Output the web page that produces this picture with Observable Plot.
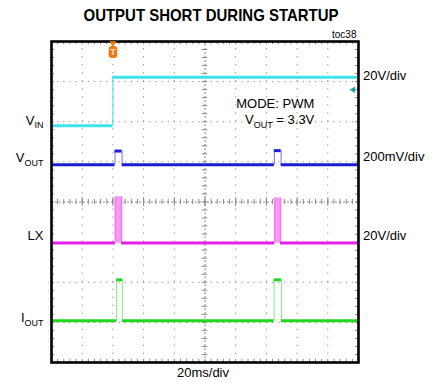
<!DOCTYPE html>
<html><head><meta charset="utf-8">
<script src="https://cdn.jsdelivr.net/npm/d3@7"></script>
<script src="https://cdn.jsdelivr.net/npm/@observablehq/plot@0.6"></script>
<style>body{margin:0;background:#fff}#chart{width:439px;height:384px}</style>
</head><body><div id="chart"></div>
<script>
// ---- data (in scope divisions: x 0..10, y -4..4) ----
const titleText = "OUTPUT SHORT DURING STARTUP";
const tocText = "toc38";
const timeLabel = "20ms/div";
const traceNames = ["VIN", "VOUT", "LX", "IOUT"];
const traceColors = ["#3de3ee", "#1c1cd6", "#e81fe8", "#1fd81f"];
const edgeColors = ["#3de3ee", "#7d7df2", "#f27cf2", "#8eee8e"];
const vinTimes = [0, 2.0, 10];
const vinLevels = [1.9, 3.11];
const voutTimes = [0, 2.07, 2.30, 7.26, 7.48, 10];
const voutLevels = [0.93, 1.27, 0.93, 1.28, 0.93];
const lxTimes = [0, 2.08, 2.28, 7.27, 7.46, 10];
const lxLevels = [-1.02, 0.13, -1.02, 0.10, -1.02];
const ioutTimes = [0, 2.12, 2.31, 7.25, 7.49, 10];
const ioutLevels = [-2.96, -1.94, -2.96, -1.94, -2.96];
const leftLabels = ["VIN", "VOUT", "LX", "IOUT"];
const leftLabelLevels = [2.03, 1.1, -0.84, -2.89];
const rightLabels = ["20V/div", "200mV/div", "20V/div"];
const rightLabelLevels = [3.15, 1.115, -0.855];
const modeLabels = ["MODE: PWM", "VOUT = 3.3V"];
const modeLabelLevels = [2.45, 2.04];
const modeLabelX = 8.56;
const triggerTime = 2.0;
const groundMarkerTime = 9.83;
const groundMarkerLevel = 2.80;
const xDivs = [1, 2, 3, 4, 6, 7, 8, 9];
const yDivs = [-3, -2, -1, 1, 2, 3];

// ---- build segments ----
function build(times, levels, name, i) {
  const h = [], v = [];
  for (let k = 0; k < levels.length; k++) h.push({x1: times[k], x2: times[k + 1], y: levels[k], name, i, k});
  for (let k = 1; k < levels.length; k++) v.push({x: times[k], y1: levels[k - 1], y2: levels[k], name, i});
  return {h, v};
}
const all = [build(vinTimes, vinLevels, "VIN", 0), build(voutTimes, voutLevels, "VOUT", 1),
             build(lxTimes, lxLevels, "LX", 2), build(ioutTimes, ioutLevels, "IOUT", 3)];
const baseLevel = [null, 0.93, -1.02, -2.96];
const hSegs = all.flatMap(t => t.h).filter(s => !(s.i === 2 && s.y !== baseLevel[2]));
const vSegs = all.flatMap(t => t.v);
const lxPulses = all[2].h.filter(s => s.y !== baseLevel[2]).map(s => ({...s, base: baseLevel[2]}));

const minorX = d3.range(0, 50.5, 1).map(d => d / 5);
const minorY = d3.range(-20, 20.5, 1).map(d => d / 5);
const grid = "#8a8a8a";

const pill = {draw(ctx) {
  const w = 4.3, h = 6, r = 3;
  ctx.moveTo(-w + r, -h); ctx.lineTo(w - r, -h); ctx.arcTo(w, -h, w, -h + r, r);
  ctx.lineTo(w, h - r); ctx.arcTo(w, h, w - r, h, r); ctx.lineTo(-w + r, h);
  ctx.arcTo(-w, h, -w, h - r, r); ctx.lineTo(-w, -h + r); ctx.arcTo(-w, -h, -w + r, -h, r); ctx.closePath();
}};

const chart = Plot.plot({
  width: 439, height: 384,
  marginTop: 41, marginLeft: 51, marginRight: 81, marginBottom: 22,
  x: {domain: [0, 10], axis: null},
  y: {domain: [-4, 4], axis: null},
  style: {fontFamily: "'Liberation Sans', Arial, sans-serif", fontSize: "13px", background: "#fff"},
  marks: [
    // dotted grid
    Plot.ruleX(xDivs, {y1: -4, y2: 4, stroke: grid, strokeWidth: 1, strokeDasharray: "1.2,6.82"}),
    Plot.ruleY(yDivs, {x1: 0, x2: 10, stroke: grid, strokeWidth: 1, strokeDasharray: "1.2,4.94"}),
    // center axes
    Plot.ruleX([5], {y1: -4, y2: 4, stroke: grid, strokeWidth: 1, strokeDasharray: "2,2"}),
    Plot.ruleY([0], {x1: 0, x2: 10, stroke: grid, strokeWidth: 1, strokeDasharray: "2,2"}),
    Plot.ruleX(minorX, {y1: -0.065, y2: 0.065, stroke: grid, strokeWidth: 1}),
    Plot.ruleY(minorY, {x1: 4.91, x2: 5.09, stroke: grid, strokeWidth: 1}),
    Plot.ruleX(xDivs.concat([5]), {y1: -0.11, y2: 0.11, stroke: grid, strokeWidth: 1}),
    // edge ticks
    Plot.ruleX(minorX, {y1: 3.92, y2: 4, stroke: grid, strokeWidth: 1}),
    Plot.ruleX(minorX, {y1: -4, y2: -3.92, stroke: grid, strokeWidth: 1}),
    Plot.ruleY(minorY, {x1: 0, x2: 0.1, stroke: grid, strokeWidth: 1}),
    Plot.ruleY(minorY, {x1: 9.9, x2: 10, stroke: grid, strokeWidth: 1}),
    // LX filled pulses
    Plot.rect(lxPulses, {x1: "x1", x2: "x2", y1: "base", y2: "y", fill: "#f59af5"}),
    // trace edges
    Plot.ruleX(vSegs, {x: "x", y1: "y1", y2: "y2", stroke: d => edgeColors[d.i], strokeWidth: d => d.i === 2 ? 1.6 : 1.1}),
    // trace levels
    Plot.ruleY(hSegs, {x1: "x1", x2: "x2", y: "y", stroke: d => traceColors[d.i], strokeWidth: 3}),
    Plot.frame({stroke: "#000", strokeWidth: 2.6}),
    // trigger marker
    Plot.dot([triggerTime], {x: d => d, y: 3.955, symbol: "triangle", r: 2.6, rotate: 180, fill: "#f07a14", stroke: "none"}),
    Plot.dot([triggerTime], {x: d => d, y: 3.74, symbol: pill, r: 4, fill: "#f07a14", stroke: "none"}),
    Plot.text([triggerTime], {x: d => d, y: 3.74, text: () => "T", fill: "#ffe2c8", fontWeight: "bold", fontSize: 9}),
    // ground marker
    Plot.dot([groundMarkerTime], {x: d => d, y: groundMarkerLevel, symbol: "triangle", r: 2.4, rotate: -90, fill: "#1aa3a3", stroke: "none"}),
    // labels
    Plot.text(leftLabels, {x: 0, y: (d, i) => leftLabelLevels[i], text: d => d, textAnchor: "end", dx: -8, fill: "#000"}),
    Plot.text(rightLabels, {x: 10, y: (d, i) => rightLabelLevels[i], text: d => d, textAnchor: "start", dx: 4.5, fill: "#000"}),
    Plot.text(modeLabels, {x: modeLabelX, y: (d, i) => modeLabelLevels[i], text: d => d, textAnchor: "end", fill: "#000"}),
    Plot.text([timeLabel], {frameAnchor: "bottom", lineAnchor: "middle", dx: -2, dy: 10.5, fill: "#000"}),
    Plot.text([titleText], {frameAnchor: "top", lineAnchor: "middle", dx: 6, dy: -25.5, fontWeight: "bold", fontSize: 17, fill: "#000"}),
    Plot.text([tocText], {frameAnchor: "top-right", textAnchor: "end", lineAnchor: "middle", dx: -2, dy: -6.5, fontSize: 10, fill: "#000"})
  ]
});

// subscripts
const subMap = {"VIN": ["V", "IN", ""], "VOUT": ["V", "OUT", ""], "IOUT": ["I", "OUT", ""], "VOUT = 3.3V": ["V", "OUT", " = 3.3V"]};
d3.select(chart).selectAll("text").each(function() {
  const t = d3.select(this);
  const s = this.textContent;
  if (s === titleText) { t.attr("textLength", 255).attr("lengthAdjust", "spacingAndGlyphs"); return; }
  const parts = subMap[s];
  if (!parts) return;
  t.text(null);
  t.append("tspan").text(parts[0]);
  t.append("tspan").attr("font-size", 9).attr("dy", 3.5).text(parts[1]);
  if (parts[2]) t.append("tspan").attr("dy", -3.5).text(parts[2]);
});
document.getElementById("chart").append(chart);
</script></body></html>
